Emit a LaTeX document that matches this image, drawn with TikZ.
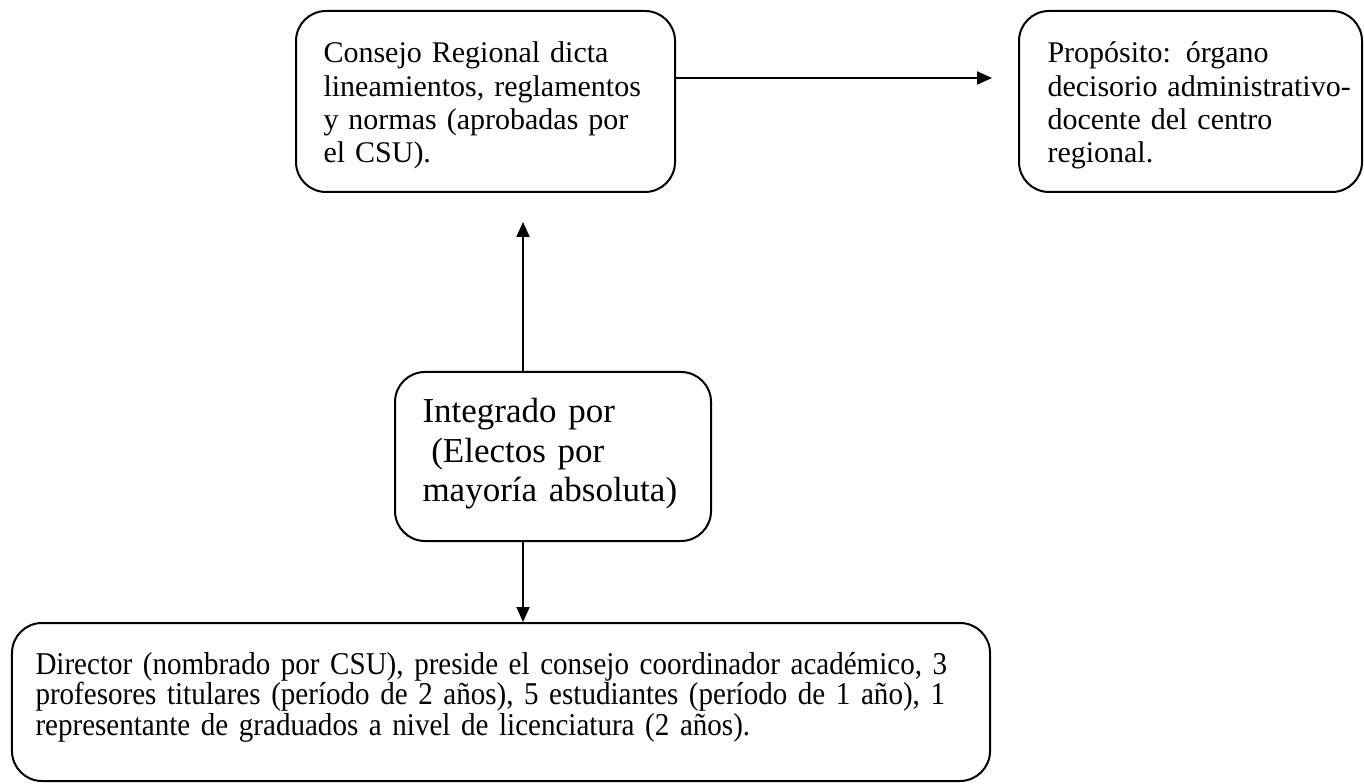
\documentclass[tikz,border=0pt]{standalone}
\usepackage{fontspec}
\setmainfont{Liberation Serif}
\newfontfamily\narrowserif[FakeStretch=0.915]{Liberation Serif}
\usetikzlibrary{arrows.meta}

\begin{document}
\begin{tikzpicture}[x=0.4pt, y=-0.4pt,
    box/.style={draw, line width=0.8pt, rounded corners=12pt, inner sep=0pt},
    txt/.style={anchor=base west, inner sep=0pt, align=left, text width=#1},
    link/.style={line width=0.8pt, -{Triangle[length=6pt, width=5.2pt]}}]
    \useasboundingbox (0,0) rectangle (1364,784);

    % Boxes
    \node[box, minimum width=151.6pt, minimum height=72.4pt] (consejo) at (485.5,101.5) {};
    \node[box, minimum width=137.2pt, minimum height=72.4pt] (proposito) at (1190.5,101.5) {};
    \node[box, minimum width=126.4pt, minimum height=67.6pt] (integrado) at (553,456.5) {};
    \node[box, minimum width=391.2pt, minimum height=63.2pt] (director) at (501,702) {};

    % Texts
    \node[txt=150pt, font=\fontsize{12}{13.3}\selectfont] (consejoTxt) at (323,63)
        {Consejo Regional dicta\\lineamientos, reglamentos\\y normas (aprobadas por\\el CSU).};
    \node[txt=130pt, font=\fontsize{12}{13.3}\selectfont] (propositoTxt) at (1047,63)
        {Propósito: órgano\\decisorio administrativo-\\docente del centro\\regional.};
    \node[txt=125pt, font=\fontsize{14}{15.8}\selectfont] (integradoTxt) at (422,423)
        {Integrado por\\\hspace{0.25em}(Electos por\\mayoría absoluta)};
    \node[txt=390pt, font=\narrowserif\fontsize{12.7}{12.2}\selectfont] (directorTxt) at (35,674)
        {Director (nombrado por CSU), preside el consejo coordinador académico, 3\\profesores titulares (período de 2 años), 5 estudiantes (período de 1 año), 1\\representante de graduados a nivel de licenciatura (2 años).};

    % Arrows
    \coordinate (propTip) at (992,78);
    \coordinate (upTip) at (523,222);
    \draw[link] (consejo.east |- propTip) -- (propTip);
    \draw[link] (integrado.north -| upTip) -- (upTip);
    \draw[link] (integrado.south -| upTip) -- (director.north -| upTip);
\end{tikzpicture}
\end{document}
